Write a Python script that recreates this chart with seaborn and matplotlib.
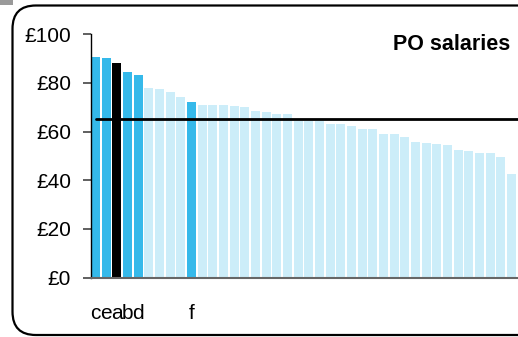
import matplotlib
matplotlib.use("Agg")
import matplotlib.pyplot as plt
import seaborn as sns
import pandas as pd
from matplotlib.patches import FancyBboxPatch, Rectangle

# ---- data ----
salaries = [90.6, 90.2, 88.2, 84.5, 83.2, 77.9, 77.5, 76.3, 74.2, 72.2,
            70.9, 70.9, 70.9, 70.5, 70.1, 68.5, 68.0, 67.2, 67.2, 64.4,
            64.4, 64.4, 63.1, 63.1, 62.3, 61.1, 61.1, 59.0, 59.0, 57.8,
            55.7, 55.3, 54.9, 54.5, 52.4, 52.0, 51.2, 51.2, 49.6, 42.6]
bar_labels = ["c", "e", "a", "b", "d", "", "", "", "", "f"] + [""] * 30
groups = ["peer", "peer", "self", "peer", "peer", "other", "other", "other", "other", "peer"] + ["other"] * 30
average = 65.3
y_ticks = [0, 20, 40, 60, 80, 100]
y_tick_labels = ["£0", "£20", "£40", "£60", "£80", "£100"]
title = "PO salaries"

palette = {"peer": "#35B9EA", "self": "#000000", "other": "#CCEDF9"}

df = pd.DataFrame({"pos": list(range(len(salaries))), "salary": salaries, "group": groups})

sns.set_style("white")
plt.rcParams["font.family"] = ["Liberation Sans", "DejaVu Sans"]
plt.rcParams["text.color"] = "black"
plt.rcParams["xtick.color"] = "black"
plt.rcParams["ytick.color"] = "black"

fig = plt.figure(figsize=(5.18, 3.37), dpi=100)
ax = fig.add_axes([90.5 / 518, 1 - 277.7 / 337, 1 - 90.5 / 518, (277.7 - 34.2) / 337])

sns.barplot(data=df, x="pos", y="salary", hue="group", palette=palette,
            dodge=False, width=0.85, legend=False, ax=ax, saturation=1,
            linewidth=0, edgecolor="none")

ax.plot([0, 45], [average, average], color="black", lw=2.0, zorder=5, clip_on=True)

ax.set_xlim(-0.47, 39.6)
ax.set_ylim(0, 100)
ax.set_yticks(y_ticks)
ax.set_yticklabels(y_tick_labels, fontsize=15, color="black")
ax.set_xticks(list(range(len(salaries))))
ax.set_xticklabels(bar_labels, fontsize=15, color="black")
ax.tick_params(axis="x", length=0, pad=19)
ax.tick_params(axis="y", length=6, width=1.2, color="#444444", pad=8, left=True)
ax.set_xlabel("")
ax.set_ylabel("")

for s in ["top", "right"]:
    ax.spines[s].set_visible(False)
ax.spines["left"].set_color("black")
ax.spines["left"].set_linewidth(1.0)
ax.spines["bottom"].set_color("#666666")
ax.spines["bottom"].set_linewidth(1.5)

fig.text(510 / 518, 1 - 45 / 337, title, ha="right", va="center",
         fontsize=15.5, fontweight="bold", color="black")

# rounded frame
frame = FancyBboxPatch((12.5 / 518, 1 - 335 / 337), 530 / 518, (335 - 5.5) / 337,
                       boxstyle="round,pad=0,rounding_size=0.045",
                       transform=fig.transFigure, fill=False, ec="black", lw=1.6,
                       mutation_aspect=518 / 337)
fig.add_artist(frame)
fig.add_artist(Rectangle((0, 1 - 4.5 / 337), 13 / 518, 4.5 / 337,
                         transform=fig.transFigure, color="#9a9a9a", lw=0))

fig.savefig("out.png", dpi=100)
